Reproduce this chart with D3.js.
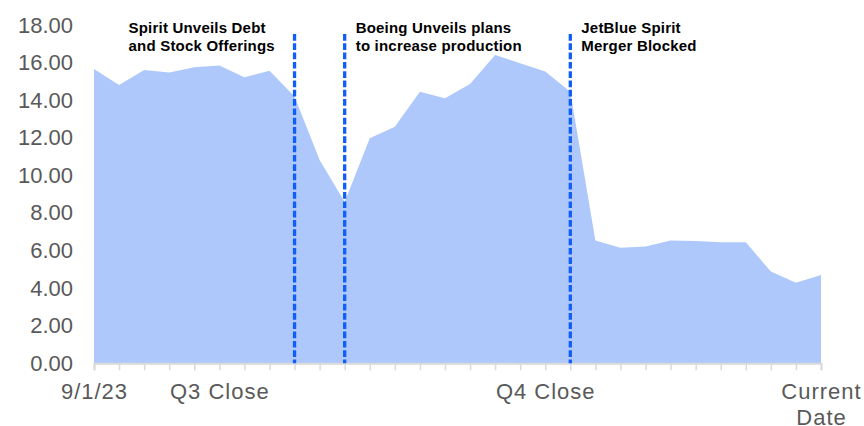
<!DOCTYPE html>
<html>
<head>
<meta charset="utf-8">
<script src="https://cdn.jsdelivr.net/npm/d3@7"></script>
<style>
  body { margin: 0; background: #fff; }
  svg { display: block; font-family: "Liberation Sans", Arial, sans-serif; }
  .axis text { fill: #595959; font-size: 22px; }
  .xlab { letter-spacing: 1px; }
  .note { font-size: 15px; font-weight: bold; fill: #000; letter-spacing: 0.2px; }
</style>
</head>
<body>
<script>
(function() {

    //category labels along the bottom (most points carry no label)
    var categories = ["9/1/23", "", "", "", "", "Q3 Close", "", "", "", "",
                      "", "", "", "", "", "", "", "", "Q4 Close", "",
                      "", "", "", "", "", "", "", "", "", "Current\nDate"];
    //share price, one per category
    var prices = [15.66, 14.81, 15.61, 15.47, 15.75, 15.84, 15.22, 15.57, 14.19, 10.82,
                  8.58, 11.97, 12.59, 14.45, 14.10, 14.86, 16.41, 15.97, 15.52, 14.45,
                  6.53, 6.15, 6.21, 6.54, 6.51, 6.44, 6.44, 4.88, 4.29, 4.70];
    //y axis ticks
    var yTicks = [0, 2, 4, 6, 8, 10, 12, 14, 16, 18];
    //events marked with dashed lines
    var eventIndex = [8, 10, 19];
    var eventText = [
        ["Spirit Unveils Debt", "and Stock Offerings"],
        ["Boeing Unveils plans", "to increase production"],
        ["JetBlue Spirit", "Merger Blocked"]
    ];

    window.onload = drawChart();

    function drawChart(){
        var width = 864, height = 426;
        var left = 94, right = 821, top = 25, bottom = 363.3;

        var svg = d3.select("body")
            .append("svg")
            .attr("width", width)
            .attr("height", height);

        var x = d3.scaleLinear()
            .domain([0, prices.length - 1])
            .range([left, right]);

        var y = d3.scaleLinear()
            .domain([0, 18])
            .range([bottom, top]);

        //price area
        var area = d3.area()
            .x(function(d, i){ return x(i); })
            .y0(y(0))
            .y1(function(d){ return y(d); });

        svg.append("path")
            .datum(prices)
            .attr("d", area)
            .style("fill", "#aec8fc");

        //y axis, labels only
        var yAxis = svg.append("g")
            .attr("class", "axis")
            .attr("transform", "translate(" + (left - 21) + ",0)")
            .call(d3.axisLeft(y)
                .tickValues(yTicks)
                .tickSize(0)
                .tickPadding(0)
                .tickFormat(d3.format(".2f")));
        yAxis.select(".domain").remove();

        //x axis with tick marks at every point
        var xAxis = svg.append("g")
            .attr("class", "axis")
            .attr("transform", "translate(0," + bottom + ")")
            .call(d3.axisBottom(x)
                .tickValues(d3.range(categories.length))
                .tickSizeOuter(0)
                .tickSize(7)
                .tickFormat(""));
        xAxis.select(".domain").style("stroke", "#d9d9d9").style("stroke-width", 2);
        xAxis.selectAll(".tick line").style("stroke", "#d9d9d9").style("stroke-width", 1.5);

        //category labels, split on line breaks
        xAxis.selectAll(".tick").each(function(i){
            var lines = categories[i].split("\n");
            var t = d3.select(this).append("text")
                .attr("class", "xlab")
                .attr("text-anchor", "middle")
                .attr("y", 36);
            lines.forEach(function(s, k){
                t.append("tspan")
                    .attr("x", 0)
                    .attr("dy", k === 0 ? 0 : 26)
                    .text(s);
            });
        });

        //event lines
        svg.selectAll(".event")
            .data(eventIndex)
            .enter()
            .append("line")
            .attr("class", "event")
            .attr("x1", function(d){ return x(d); })
            .attr("x2", function(d){ return x(d); })
            .attr("y1", 34)
            .attr("y2", bottom)
            .style("stroke", "#0f5ef7")
            .style("stroke-width", 3.3)
            .style("stroke-dasharray", "6.7,2.6");

        //event notes
        var noteX = [x(eventIndex[0]) - 166, x(eventIndex[1]) + 11, x(eventIndex[2]) + 11];
        eventText.forEach(function(lines, k){
            var t = svg.append("text")
                .attr("class", "note")
                .attr("x", noteX[k])
                .attr("y", 33);
            lines.forEach(function(s, j){
                t.append("tspan")
                    .attr("x", noteX[k])
                    .attr("dy", j === 0 ? 0 : 18.4)
                    .text(s);
            });
        });
    };

})();
</script>
</body>
</html>
